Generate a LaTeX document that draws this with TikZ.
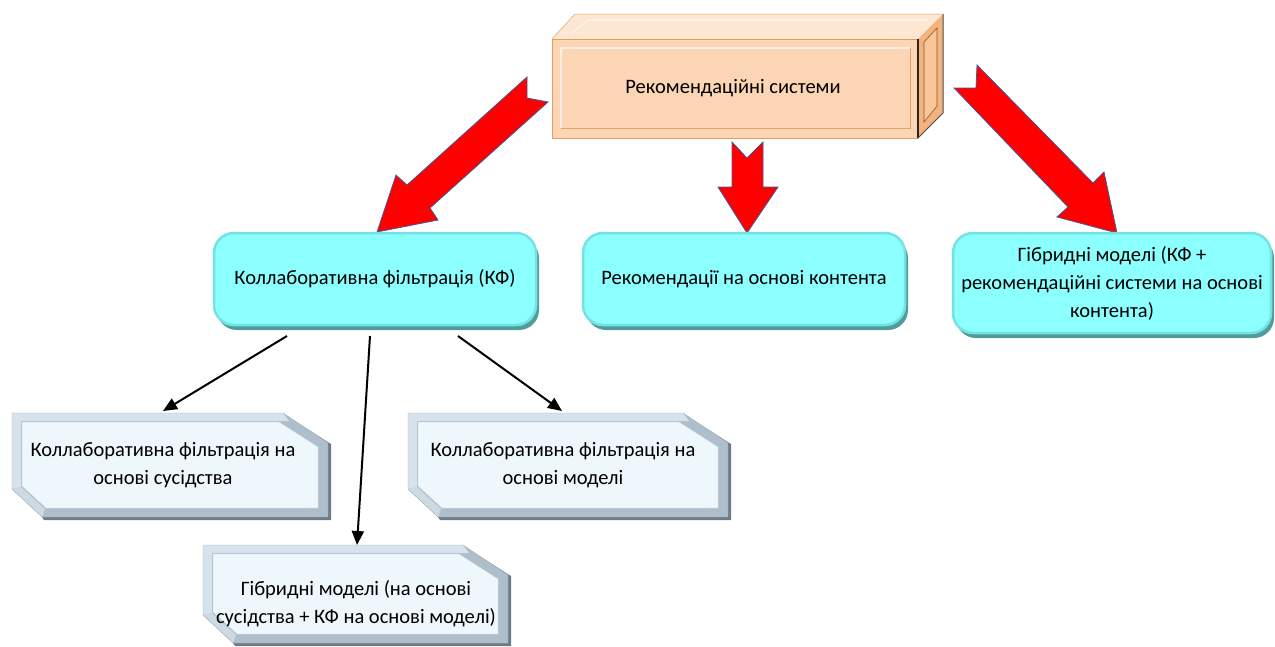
\documentclass[tikz,border=0pt]{standalone}
\usepackage{fontspec}
\setmainfont{Carlito}
\usetikzlibrary{shadows,arrows.meta}
\definecolor{peach}{HTML}{FCD5B5}
\definecolor{peachtop}{HTML}{FDE6D2}
\definecolor{peachside}{HTML}{F5B27C}
\definecolor{peachsidein}{HTML}{FAC598}
\definecolor{cyanfill}{HTML}{8CFFFF}
\definecolor{cyanedge}{HTML}{74E2E2}
\definecolor{cyanshadow}{HTML}{4E9C9C}
\definecolor{bevlight}{HTML}{D6E3EC}
\definecolor{bevdark}{HTML}{AEBFCB}
\definecolor{bevin}{HTML}{EEF7FC}
\definecolor{bevshadow}{HTML}{56646E}
\definecolor{arrowred}{HTML}{FF0000}
\definecolor{arrowedge}{HTML}{3F5A9A}
% bevel box: #1 name, #2 x1, #3 y1, #4 x2, #5 y2, #6 text x, #7 text y, #8 text
\newcommand\bevbox[8]{%
  \fill[bevshadow, opacity=0.85] (#4-45+2,#3+2) -- (#4+3,#3+30+1) -- (#4+3,#5+3)
     -- (#2+30+2,#5+3) -- (#2+30,#5) -- (#4,#5) -- (#4,#3+30) -- cycle;
  \fill[bevdark] (#2,#3) -- (#4-45,#3) -- (#4,#3+30) -- (#4,#5)
     -- (#2+30,#5) -- (#2,#5-28) -- cycle;
  \fill[bevlight] (#2,#3) -- (#4-45,#3) -- (#4-45+6,#3+8) -- (#2+9,#3+8) -- (#2+9,#5-30) -- (#2,#5-28) -- cycle;
  \fill[bevlight!75!bevdark] (#2,#5-28) -- (#2+9,#5-30) -- (#2+33,#5-8) -- (#2+30,#5) -- cycle;
  \fill[bevin] (#2+10,#3+9) -- (#4-49,#3+9) -- (#4-10,#3+34) -- (#4-10,#5-9)
     -- (#2+34,#5-9) -- (#2+10,#5-31) -- cycle;
  \draw[bevdark!60, line width=0.4pt] (#2+10,#3+9) -- (#4-49,#3+9) -- (#4-10,#3+34) -- (#4-10,#5-9)
     -- (#2+34,#5-9) -- (#2+10,#5-31) -- cycle;
  \draw[bevdark!90!black, line width=0.4pt] (#2,#3) -- (#4-45,#3) -- (#4,#3+30) -- (#4,#5)
     -- (#2+30,#5) -- (#2,#5-28) -- cycle;
  \node[txt] (#1) at (#6,#7) {#8};
}
\begin{document}
\begin{tikzpicture}[x=1pt,y=-1pt,
  txt/.style={font=\fontsize{20.5}{28}\selectfont, align=center, text=black},
  cyanbox/.style={txt, rounded corners=20pt, fill=cyanfill, draw=cyanedge, line width=2.5pt,
     drop shadow={shadow xshift=3pt, shadow yshift=-5pt, fill=cyanshadow, opacity=1, shadow scale=1}},
  redarrow/.style={fill=arrowred, draw=arrowedge, line width=0.8pt, line join=miter},
  blackarrow/.style={line width=2pt, -{Triangle[length=14pt,width=12pt]}}
]
\useasboundingbox (0,0) rectangle (1275,646);

% ---------- top 3D box ----------
\fill[peachtop] (552,39) -- (575,14) -- (943,14) -- (918,39) -- cycle;
\draw[white!80!peach, line width=1.2pt] (572,33) -- (588,20) -- (928,20);
\draw[peachside!60!brown, line width=0.5pt] (552,39) -- (575,14) -- (943,14);
\fill[peachside] (918,39) -- (943,14) -- (943,113) -- (918,138) -- cycle;
\fill[peachsidein] (924,42) -- (937,28) -- (937,106) -- (924,122) -- cycle;
\draw[brown!70!black, line width=0.6pt] (924,42) -- (937,28) -- (937,106) -- (924,122) -- cycle;
\fill[peach] (552,39) rectangle (918,138);
\draw[white!60!peach, line width=1.2pt] (561,128) -- (561,48) -- (910,48);
\draw[peachside!70!brown, line width=1pt] (910,48) -- (910,128) -- (561,128);
\draw[peachside!60!brown, line width=0.7pt] (552,39) rectangle (918,138);
\draw[black!85, line width=2pt] (918,39) -- (918,138);
\draw[black!70, line width=1pt] (943,14) -- (943,113) -- (918,138);
\node[txt] (rs) at (733,88) {Рекомендаційні системи};

% ---------- red block arrows ----------
\draw[redarrow] (527,77) -- (527,98) -- (548,102) -- (430,208) -- (438,220) -- (377,232)
   -- (396,175) -- (407,185) -- cycle;
\draw[redarrow] (732,142) -- (747,158) -- (763,142) -- (763,187) -- (778,187) -- (747,233)
   -- (718,187) -- (732,187) -- cycle;
\draw[redarrow] (977,65) -- (1093,183) -- (1104,172) -- (1117,233) -- (1057,217)
   -- (1068,207) -- (954,88) -- (976,88) -- cycle;

% ---------- cyan boxes ----------
\node[cyanbox, minimum width=322pt, minimum height=92pt] (kf) at (375,279) {Коллаборативна фільтрація (КФ)};
\node[cyanbox, minimum width=322pt, minimum height=92pt] (kont) at (744,279) {Рекомендації на основі контента};
\node[cyanbox, minimum width=318pt, minimum height=100pt] (hyb) at (1112,283)
  {Гібридні моделі (КФ +\\рекомендаційні системи на основі\\контента)};

% ---------- bevel boxes ----------
\bevbox{sus}{12}{413}{328}{517}{163}{465}{Коллаборативна фільтрація на\\основі сусідства}
\bevbox{mod}{408}{413}{728}{517}{563}{465}{Коллаборативна фільтрація на\\основі моделі}
\bevbox{gib}{203}{545}{508}{643}{356}{604}{Гібридні моделі (на основі\\сусідства + КФ на основі моделі)}

% ---------- black arrows ----------
\coordinate (s1) at (287,336);
\coordinate (s2) at (370,336);
\coordinate (s3) at (458,336);
\coordinate (e1) at (163,411);
\coordinate (e2) at (357,545);
\coordinate (e3) at (562,411);
\draw[blackarrow] (s1) -- (e1);
\draw[blackarrow] (s2) -- (e2);
\draw[blackarrow] (s3) -- (e3);
\end{tikzpicture}
\end{document}
